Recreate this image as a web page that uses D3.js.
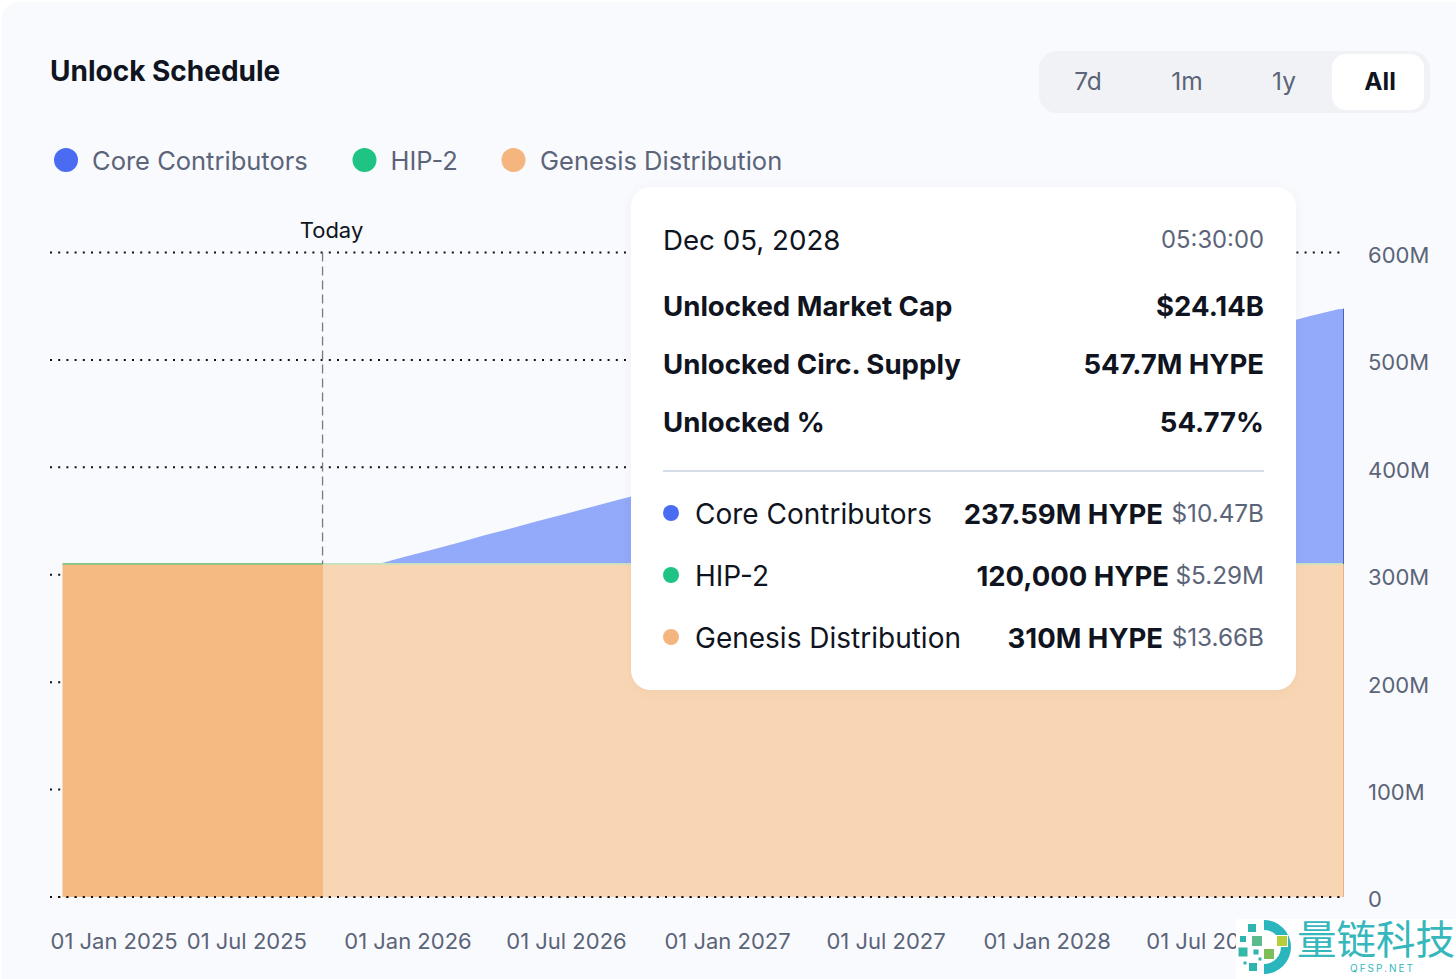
<!DOCTYPE html>
<html><head><meta charset="utf-8">
<script src="https://cdn.jsdelivr.net/npm/d3@7"></script>
<style>
html,body{margin:0;padding:0;background:#fff;overflow:hidden}
svg{display:block;font-family:Inter,"Noto Sans",sans-serif}
</style></head><body><svg id="c" width="1456" height="979"></svg>
<script>
const dates=["2024-12-03","2025-11-29","2025-12-29","2026-01-29","2026-03-01","2026-03-29","2026-04-29","2026-05-29","2026-06-29","2026-07-29","2026-08-29","2026-09-29","2026-10-29","2026-11-29","2026-12-29","2027-01-29","2027-03-01","2027-03-29","2027-04-29","2027-05-29","2027-06-29","2027-07-29","2027-08-29","2027-09-29","2027-10-29","2027-11-29","2027-12-29","2028-01-29","2028-02-29","2028-03-29","2028-04-29","2028-05-29","2028-06-29","2028-07-29","2028-08-29","2028-09-29","2028-10-29","2028-11-29","2028-12-05"];
const coreValues=[0,0,6.6,13.2,19.8,26.4,33,39.6,46.2,52.8,59.4,66,72.6,79.2,85.8,92.4,99,105.6,112.2,118.8,125.4,132,138.6,145.2,151.8,158.4,165,171.6,178.2,184.8,191.4,198,204.6,211.2,217.8,224.4,231,237,237.59];
const hipValues=dates.map(()=>0.12);
const genesisValues=dates.map(()=>310);
const keys=["genesis","hip","core"];
const names=["Core Contributors","HIP-2","Genesis Distribution"];
const colors=["#4A6CF2","#1FC485","#F4B57E"];
const yTicks=[0,100,200,300,400,500,600];
const xTicks=["2025-01-01","2025-07-01","2026-01-01","2026-07-01","2027-01-01","2027-07-01","2028-01-01","2028-07-01"];
const today="2025-09-26";
const ranges=["7d","1m","1y","All"];
const rangeX=[1088,1187,1284,1380];
const tipRows=[["Unlocked Market Cap","$24.14B"],["Unlocked Circ. Supply","547.7M HYPE"],["Unlocked %","54.77%"]];
const tipSeries=[["Core Contributors","237.59M HYPE","$10.47B"],["HIP-2","120,000 HYPE","$5.29M"],["Genesis Distribution","310M HYPE","$13.66B"]];

const svg=d3.select("#c");
const p=s=>new Date(s+"T00:00:00Z");
const x=d3.scaleUtc().domain([p(dates[0]),p(dates[dates.length-1])]).range([62.5,1343.5]);
const y=d3.scaleLinear().domain([0,600]).range([897,252.5]);
const TXT="#5B6478",INK="#0F1420";

svg.append("rect").attr("width",1456).attr("height",979).attr("fill","#fff");
svg.append("rect").attr("x",2).attr("y",2).attr("width",1470).attr("height",1000).attr("rx",16).attr("fill","#F9FAFD");

svg.append("text").attr("x",50).attr("y",81).attr("font-size",28).attr("font-weight",700).attr("fill",INK).text("Unlock Schedule");

svg.append("rect").attr("x",1039).attr("y",51).attr("width",391).attr("height",62).attr("rx",18).attr("fill","#F1F2F6");
svg.append("rect").attr("x",1332).attr("y",54).attr("width",92).attr("height",56).attr("rx",14).attr("fill","#fff");
svg.selectAll(".rg").data(ranges).join("text").attr("class","rg")
  .attr("x",(d,i)=>rangeX[i]).attr("y",90).attr("text-anchor","middle").attr("font-size",24.5)
  .attr("font-weight",d=>d==="All"?700:400).attr("fill",d=>d==="All"?INK:TXT).text(d=>d);

const legendDot=[66,364.5,513.5],legendText=[92,390.5,540];
names.forEach((n,i)=>{
  svg.append("circle").attr("cx",legendDot[i]).attr("cy",160).attr("r",12).attr("fill",colors[i]);
  svg.append("text").attr("x",legendText[i]).attr("y",170).attr("font-size",25.5).attr("fill",TXT).text(n);
});

// grid and y axis
const yAxis=svg.append("g").attr("transform","translate(1340,0)")
  .call(d3.axisRight(y).tickValues(yTicks).tickSize(0).tickPadding(28).tickFormat(d=>d===0?"0":d+"M"));
yAxis.select(".domain").remove();
yAxis.selectAll("text").attr("font-size",22).attr("font-family","Inter").attr("fill",TXT).attr("dy","0.45em");
const grid=svg.append("g");
function drawGrid(g,vals){g.selectAll("line").data(vals).join("line").attr("x1",50).attr("x2",1342)
  .attr("y1",d=>y(d)).attr("y2",d=>y(d)).attr("stroke","#111").attr("stroke-width",2).attr("stroke-dasharray","2 6.2");}
drawGrid(grid,yTicks);

// stacked areas
const rows=dates.map((d,i)=>({date:p(d),genesis:genesisValues[i],hip:hipValues[i],core:coreValues[i]}));
const stack=d3.stack().keys(keys)(rows);
const area=d3.area().x(d=>x(d.data.date)).y0(d=>y(d[0])).y1(d=>y(d[1]));
const line=d3.line().x(d=>x(d.data.date)).y(d=>y(d[1]));
const defs=svg.append("defs");
const xt=x(p(today)), xSeam=Math.round(xt);
defs.append("clipPath").attr("id","past").append("rect").attr("x",0).attr("y",0).attr("width",xSeam).attr("height",979);
defs.append("clipPath").attr("id","future").append("rect").attr("x",xSeam).attr("y",0).attr("width",1456).attr("height",979);
const fills={past:{genesis:"#F4BA82",hip:"#7FC58A",core:"#4A6CF2"},future:{genesis:"#F9D6B3",hip:"#C3E3BE",core:"#93A9F9"}};
["past","future"].forEach(id=>{
  const g=svg.append("g").attr("clip-path",`url(#${id})`);
  g.selectAll("path.a").data(stack).join("path").attr("class","a").attr("d",area).attr("fill",d=>fills[id][d.key]);
  g.append("path").datum(stack[1]).attr("d",line).attr("fill","none").attr("stroke",fills[id].hip).attr("stroke-width",1.6);
});
// right edge
const xe=x(p(dates[dates.length-1]));
svg.append("line").attr("x1",xe).attr("x2",xe).attr("y1",y(0)).attr("y2",y(310)).attr("stroke","#E5B285").attr("stroke-width",1);
svg.append("line").attr("x1",xe).attr("x2",xe).attr("y1",y(310)).attr("y2",y(547.7)).attr("stroke","#4A62B8").attr("stroke-width",1);
// baseline dots above the area
drawGrid(svg.append("g"),[0]);

// today
svg.append("line").attr("x1",xt).attr("x2",xt).attr("y1",y(600)).attr("y2",y(310)).attr("stroke","#737985").attr("stroke-width",1.3).attr("stroke-dasharray","9 5");
svg.append("text").attr("x",331.5).attr("y",238).attr("text-anchor","middle").attr("font-size",22).attr("fill",INK).text("Today");

// x axis
const xAxis=svg.append("g").attr("transform","translate(0,897)")
  .call(d3.axisBottom(x).tickValues(xTicks.map(p)).tickSize(0).tickPadding(36).tickFormat(d3.utcFormat("%d %b %Y")));
xAxis.select(".domain").remove();
xAxis.selectAll("text").attr("font-size",22).attr("font-family","Inter").attr("fill",TXT);
xAxis.selectAll(".tick").filter((d,i)=>i===0).select("text").attr("text-anchor","start").attr("x",50-x(p(xTicks[0])));

// tooltip
const tip=svg.append("g");
defs.append("filter").attr("id","sh").attr("x","-10%").attr("y","-10%").attr("width","120%").attr("height","120%")
  .append("feDropShadow").attr("dx",0).attr("dy",2).attr("stdDeviation",6).attr("flood-color","#1a2440").attr("flood-opacity",0.04);
tip.append("rect").attr("x",631).attr("y",187).attr("width",665).attr("height",503).attr("rx",20).attr("fill","#fff").attr("filter","url(#sh)");
const T=(xp,yp,s,fs,fw,fill,anchor)=>tip.append("text").attr("x",xp).attr("y",yp).attr("font-size",fs).attr("font-weight",fw).attr("fill",fill).attr("text-anchor",anchor||"start").text(s);
T(663,250,"Dec 05, 2028",27.7,400,INK);
T(1264,248,"05:30:00",23.8,400,TXT,"end");
const rowY=[315.5,373.5,431.5];
tipRows.forEach((r,i)=>{T(663,rowY[i],r[0],27.6,700,INK);T(1264,rowY[i],r[1],27.5,700,INK,"end");});
tip.append("line").attr("x1",663).attr("x2",1264).attr("y1",471).attr("y2",471).attr("stroke","#C7D2DE").attr("stroke-width",1.5);
const serY=[523.5,585.5,647.5],serValEnd=[1163,1169,1163];
tipSeries.forEach((r,i)=>{
  tip.append("circle").attr("cx",671).attr("cy",serY[i]-10.5).attr("r",8).attr("fill",colors[i]);
  T(695,serY[i],r[0],28,400,INK);
  T(serValEnd[i],serY[i],r[1],27.5,700,INK,"end");
  T(1264,serY[i]-1.5,r[2],24.3,400,TXT,"end");
});

// watermark
const wm=svg.append("g");
wm.append("rect").attr("x",1236).attr("y",919).attr("width",220).attr("height",60).attr("fill","#fff");
wm.append("path").attr("transform","translate(1264,947)").attr("d",d3.arc().innerRadius(17).outerRadius(27).startAngle(0).endAngle(Math.PI)()).attr("fill","#2AB6BC");
const sq=[[1252,928,8,"#2FB5B0"],[1243,939,6,"#2FB5B0"],[1257,941,10,"#5BBB8B"],[1282,941,10,"#B5CE3A"],[1243,952,9,"#34B8A8"],[1256,952,5,"#2FB5B0"],[1269,954,10,"#7DBE5A"],[1253,967,8,"#2FB5B0"],[1245,963,3,"#2FB5B0"],[1260,959,3,"#2FB5B0"]];
sq.forEach(s=>wm.append("rect").attr("x",s[0]-s[2]/2-1).attr("y",s[1]-s[2]/2-1).attr("width",s[2]+2).attr("height",s[2]+2).attr("fill","#fff"));
sq.forEach(s=>wm.append("rect").attr("x",s[0]-s[2]/2).attr("y",s[1]-s[2]/2).attr("width",s[2]).attr("height",s[2]).attr("fill",s[3]));
wm.append("text").attr("x",1297).attr("y",954).attr("font-family","Noto Sans CJK SC").attr("font-size",39.5).attr("fill","#35B7BC").text("量链科技");
wm.append("text").attr("x",1350).attr("y",972).attr("font-size",10).attr("letter-spacing",2).attr("fill","#35B7BC").text("QFSP.NET");
</script></body></html>
